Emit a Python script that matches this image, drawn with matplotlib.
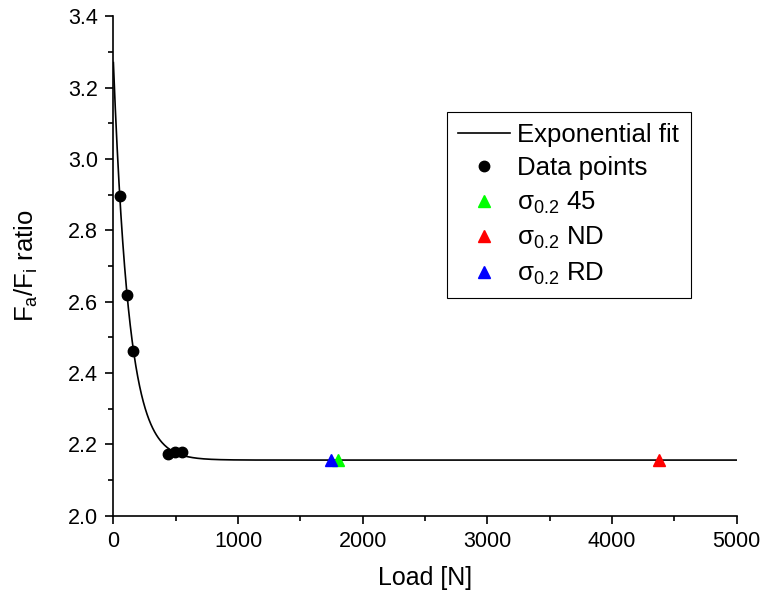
import numpy as np
import matplotlib
matplotlib.use('Agg')
from matplotlib import pyplot as plt
from matplotlib.ticker import MultipleLocator

plt.rcParams['font.family'] = ['Liberation Sans', 'DejaVu Sans']
plt.rcParams['mathtext.fontset'] = 'custom'
plt.rcParams['mathtext.rm'] = 'Liberation Sans'
plt.rcParams['mathtext.it'] = 'Liberation Sans:italic'

# measured points
load = [54, 107, 161, 441, 497, 547]
ratio = [2.896, 2.619, 2.462, 2.172, 2.178, 2.178]

# yield-strength loads (sigma 0.2)
sigma_labels = ['45', 'ND', 'RD']
sigma_load = [1805, 4375, 1748]
sigma_ratio = [2.157, 2.157, 2.157]
sigma_colors = ['#00ff00', '#ff0000', '#0000ff']

# exponential fit: y = y0 + A*exp(-x/t)
FIT_Y0 = 2.156
FIT_A = 1.114
FIT_T = 125.0

x_fit = np.linspace(0, 5000, 1000)
y_fit = FIT_Y0 + FIT_A * np.exp(-x_fit / FIT_T)

fig = plt.figure(figsize=(7.61, 5.99), dpi=100)
ax = fig.add_axes([0.149, 0.139, 0.819, 0.834])

ax.plot(x_fit, y_fit, color='black', lw=1.2, label='Exponential fit', zorder=2)
ax.plot(load, ratio, 'o', color='black', markersize=7.5, label='Data points', zorder=3)
for lab, xv, yv, c in zip(sigma_labels, sigma_load, sigma_ratio, sigma_colors):
    ax.plot([xv], [yv], '^', color=c, markersize=9, label=r'σ$_{\mathregular{0.2}}$ ' + lab, zorder=3)

ax.set_xlim(0, 5000)
ax.set_ylim(2.0, 3.4)
ax.xaxis.set_major_locator(MultipleLocator(1000))
ax.xaxis.set_minor_locator(MultipleLocator(500))
ax.yaxis.set_major_locator(MultipleLocator(0.2))
ax.yaxis.set_minor_locator(MultipleLocator(0.1))

for side in ['top', 'right']:
    ax.spines[side].set_visible(False)
for side in ['left', 'bottom']:
    ax.spines[side].set_linewidth(1.2)
ax.tick_params(which='major', direction='out', length=6, width=1.2, labelsize=15.5, pad=5)
ax.tick_params(which='minor', direction='out', length=3.5, width=1.2)

ax.set_xlabel('Load [N]', fontsize=18, labelpad=10)
ax.set_ylabel(r'F$_{\mathregular{a}}$/F$_{\mathregular{i}}$ ratio', fontsize=18.5, labelpad=20)

leg = ax.legend(loc='upper left', bbox_to_anchor=(0.535, 0.809), fontsize=18.5,
                frameon=True, fancybox=False, edgecolor='black', framealpha=1,
                handlelength=2.0, borderpad=0.45, labelspacing=0.36, handletextpad=0.3,
                borderaxespad=0)
leg.get_frame().set_linewidth(0.8)

plt.savefig('out.png', dpi=100)
